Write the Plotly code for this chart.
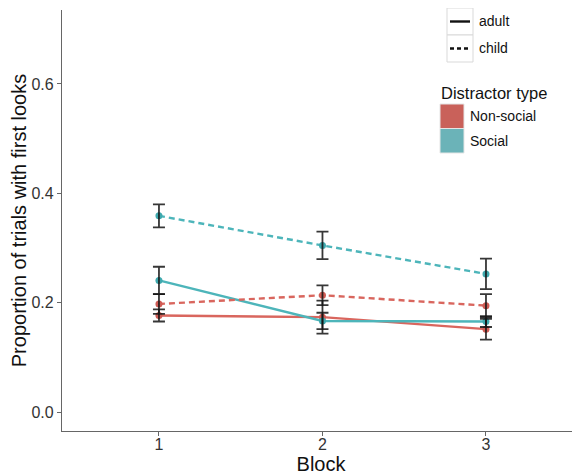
import plotly.graph_objects as go

# ---------------- data ----------------
blocks = [1, 2, 3]
block_labels = ["1", "2", "3"]

nonsocial_adult = [0.177, 0.174, 0.152]
nonsocial_adult_se = [0.011, 0.030, 0.019]
social_adult = [0.241, 0.167, 0.166]
social_adult_se = [0.025, 0.015, 0.010]
nonsocial_child = [0.198, 0.214, 0.195]
nonsocial_child_se = [0.018, 0.018, 0.021]
social_child = [0.359, 0.305, 0.253]
social_child_se = [0.021, 0.025, 0.028]

y_ticks = [0.0, 0.2, 0.4, 0.6]
y_tick_labels = ["0.0", "0.2", "0.4", "0.6"]

age_labels = ["adult", "child"]
type_labels = ["Non-social", "Social"]
legend_title = "Distractor type"

# ---------------- styling ----------------
OFF = 8  # page body margin
W, H = 580 - OFF, 475 - OFF
ML, MR, MT, MB = 62 - OFF, 0, 10 - OFF, 44
PW, PH = W - ML - MR, H - MT - MB
FONT = "Liberation Sans, Arial, sans-serif"

col_line = {"Non-social": "#D9665E", "Social": "#4DB5BA"}
col_pt = {"Non-social": "#CF5C55", "Social": "#3FA9AE"}
col_key = {"Non-social": "#C9615A", "Social": "#6BB3B8"}
dash = {"adult": "solid", "child": "6px,4px"}

series = [
    ("Non-social", "adult", nonsocial_adult, nonsocial_adult_se),
    ("Social", "adult", social_adult, social_adult_se),
    ("Non-social", "child", nonsocial_child, nonsocial_child_se),
    ("Social", "child", social_child, social_child_se),
]

fig = go.Figure()

for typ, age, vals, se in series:
    fig.add_trace(go.Scatter(
        x=blocks, y=vals, mode="lines+markers",
        line=dict(color=col_line[typ], width=2.4, dash=dash[age]),
        marker=dict(color=col_pt[typ], size=7),
        showlegend=False, hoverinfo="skip",
    ))

for typ, age, vals, se in series:
    fig.add_trace(go.Scatter(
        x=blocks, y=vals, mode="markers",
        marker=dict(color="rgba(0,0,0,0)", size=1),
        error_y=dict(type="data", array=se, visible=True,
                     color="rgba(20,20,20,0.85)", thickness=1.8, width=6),
        showlegend=False, hoverinfo="skip",
    ))


# helpers: convert page pixel position (reference coordinates) to paper coords
def px(xp):
    return (xp - OFF - ML) / PW


def py(yp):
    return (MT + PH - (yp - OFF)) / PH


shapes = []
annotations = []

# linetype legend
key_top = 8
key_h = 27
for i, age in enumerate(age_labels):
    y0 = key_top + i * key_h
    shapes.append(dict(type="rect", xref="paper", yref="paper",
                       x0=px(447), x1=px(473), y0=py(y0 + key_h), y1=py(y0),
                       line=dict(color="#D9D9D9", width=1), fillcolor="white"))
    shapes.append(dict(type="line", xref="paper", yref="paper",
                       x0=px(450), x1=px(470), y0=py(y0 + key_h / 2), y1=py(y0 + key_h / 2),
                       line=dict(color="#111111", width=2.4,
                                 dash="solid" if age == "adult" else "4px,3px")))
    annotations.append(dict(xref="paper", yref="paper", x=px(477), y=py(y0 + key_h / 2),
                            text=age, showarrow=False, xanchor="left", yanchor="middle",
                            font=dict(family=FONT, size=14, color="#111111")))

# colour legend
annotations.append(dict(xref="paper", yref="paper", x=px(439), y=py(93),
                        text=legend_title, showarrow=False, xanchor="left", yanchor="middle",
                        font=dict(family=FONT, size=16.5, color="#111111")))
sw_top = 104
sw_h = 24.5
for i, typ in enumerate(type_labels):
    y0 = sw_top + i * sw_h
    shapes.append(dict(type="rect", xref="paper", yref="paper",
                       x0=px(440), x1=px(464), y0=py(y0 + sw_h), y1=py(y0),
                       line=dict(color="#E5E5E5", width=1), fillcolor=col_key[typ]))
    annotations.append(dict(xref="paper", yref="paper", x=px(468), y=py(y0 + sw_h / 2),
                            text=typ, showarrow=False, xanchor="left", yanchor="middle",
                            font=dict(family=FONT, size=14, color="#111111")))

fig.update_layout(
    width=W, height=H,
    margin=dict(l=ML, r=MR, t=MT, b=MB, pad=0),
    paper_bgcolor="white", plot_bgcolor="white",
    font=dict(family=FONT, color="#222222"),
    shapes=shapes, annotations=annotations,
    showlegend=False,
)

fig.update_xaxes(
    range=[0.407, 3.575], tickvals=blocks, ticktext=block_labels,
    showgrid=False, zeroline=False, showline=True, linecolor="#666666", linewidth=1.2,
    ticks="outside", ticklen=4, tickcolor="#666666", tickwidth=1,
    tickfont=dict(family=FONT, size=16, color="#333333"),
    ticklabelstandoff=-5,
    title=dict(text="Block", font=dict(family=FONT, size=20, color="#111111"), standoff=0),
    automargin=False,
)
fig.update_yaxes(
    range=[-0.034, 0.735], tickvals=y_ticks, ticktext=y_tick_labels,
    showgrid=False, zeroline=False, showline=True, linecolor="#666666", linewidth=1.2,
    ticks="outside", ticklen=4, tickcolor="#666666", tickwidth=1,
    tickfont=dict(family=FONT, size=16, color="#333333"),
    title=dict(text="Proportion of trials with first looks",
               font=dict(family=FONT, size=20, color="#111111"), standoff=1),
    automargin=False,
)

fig.write_html("out.html")
